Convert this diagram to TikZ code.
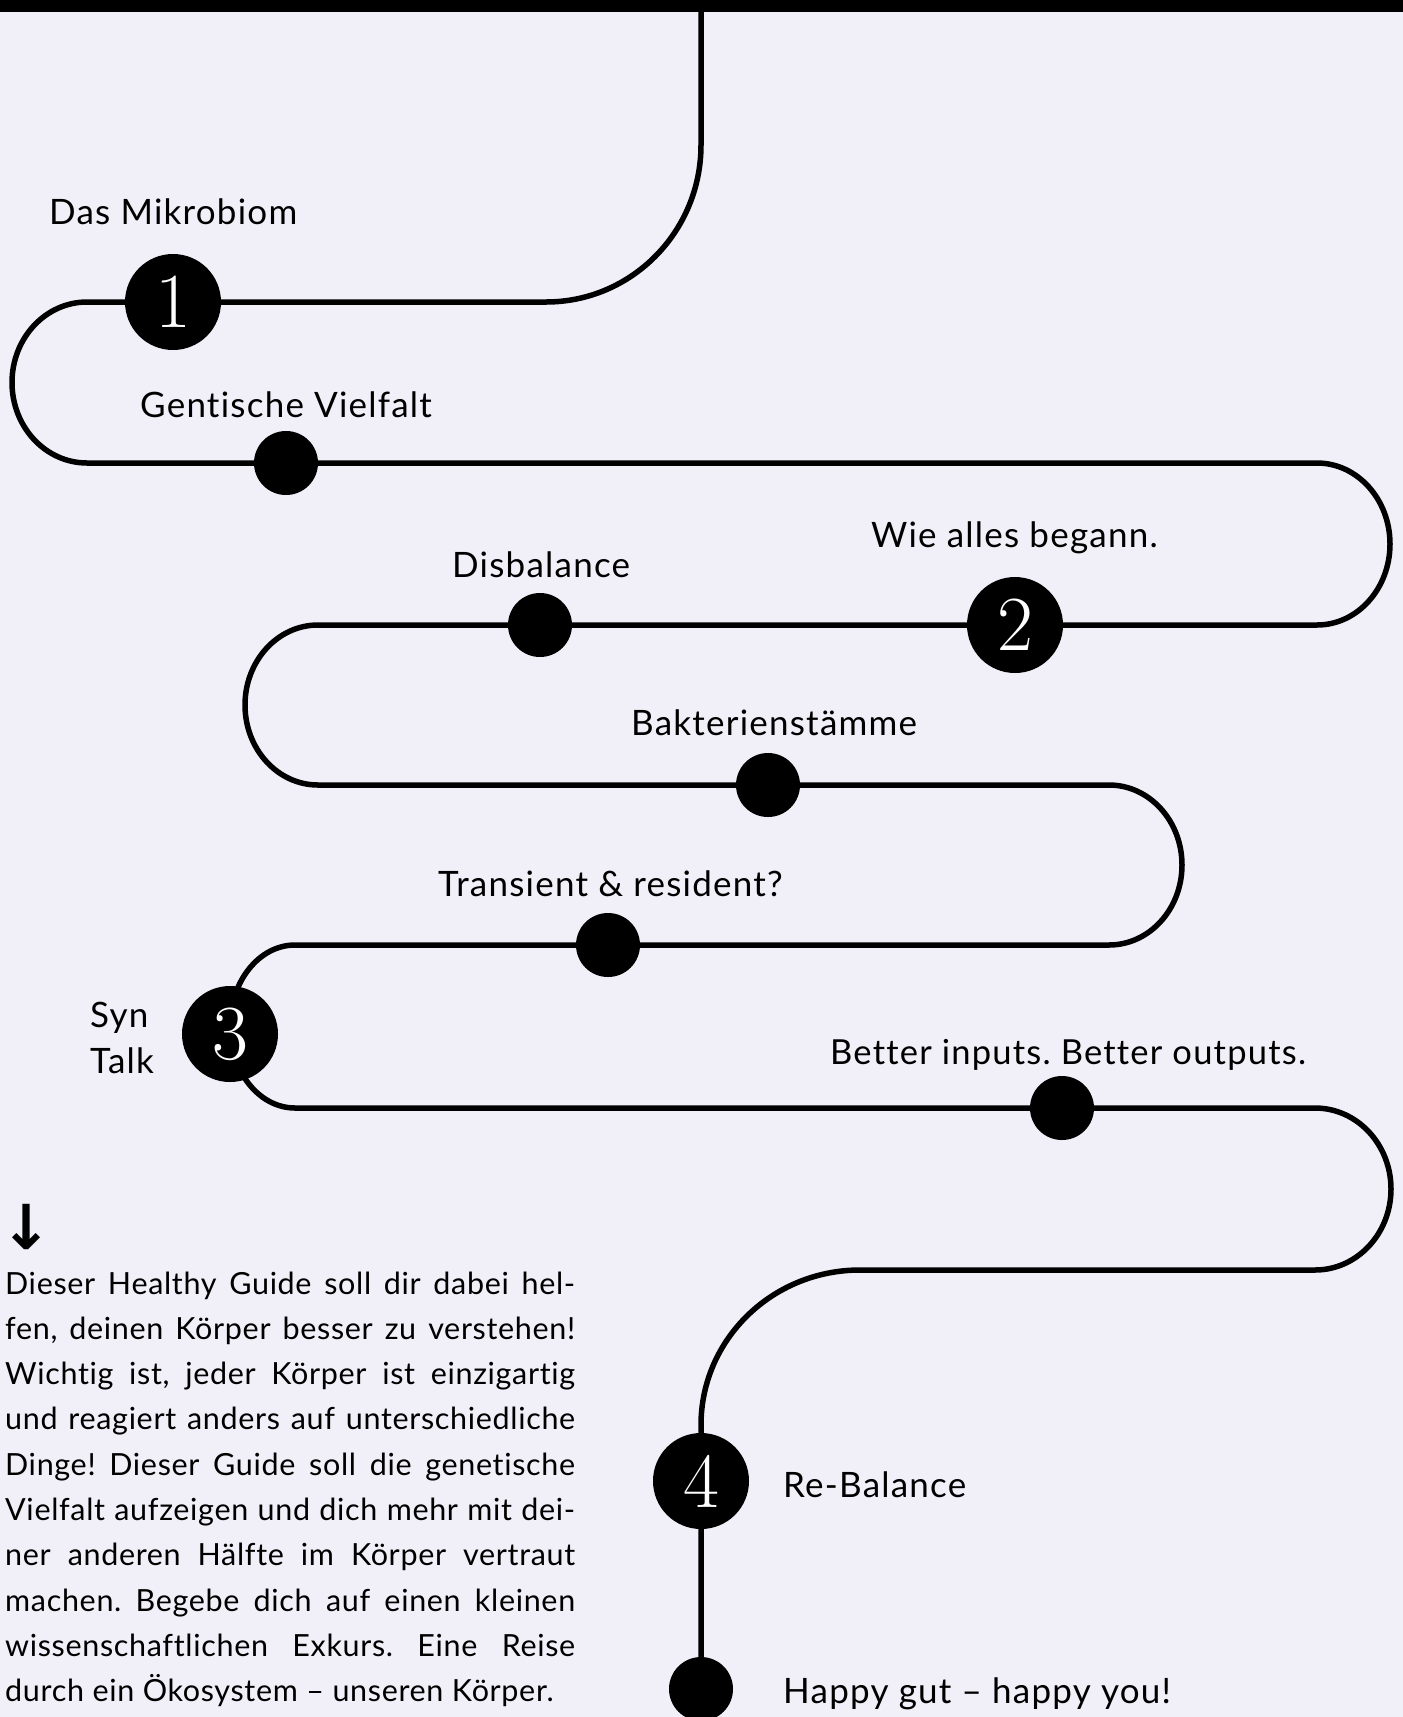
\documentclass[tikz,border=0pt]{standalone}
\usepackage{fontspec}
\newfontfamily\lab{Lato}[LetterSpace=3.5, Ligatures=NoCommon]
\newfontfamily\paraf{Lato}[LetterSpace=2.2, Ligatures=NoCommon]
\newfontfamily\arrfont{DejaVu Sans}
\definecolor{bg}{RGB}{241,239,248}
\begin{document}
\frenchspacing
\begin{tikzpicture}[x=1pt,y=-1pt,
  route/.style={line width=5.5pt, line join=round},
  bignode/.style={circle, fill=black, minimum size=96pt, inner sep=0pt, text=white, font=\fontsize{78}{78}\selectfont},
  dotnode/.style={circle, fill=black, minimum size=64pt, inner sep=0pt},
  lbl/.style={anchor=base west, inner sep=0pt, font=\lab\fontsize{35}{40}\selectfont},
  para/.style={anchor=base west, inner sep=0pt, font=\paraf\fontsize{30.5}{45}\selectfont}]
\useasboundingbox (0,0) rectangle (1403,1717);
\fill[bg] (0,0) rectangle (1403,1717);
\fill[black] (0,0) rectangle (1403,12);

% route
\coordinate (start) at (701,6);
\coordinate (finish) at (701,1730);
\draw[route] (start) -- (701,145)
  .. controls (701,231.7) and (631.6,302) .. (546,302) -- (87,302)
  .. controls (45.6,302) and (12,338) .. (12,382.5)
  .. controls (12,427) and (45.6,463) .. (87,463) -- (1317,463)
  .. controls (1357.3,463) and (1390,499.3) .. (1390,544)
  .. controls (1390,588.7) and (1357.3,625) .. (1317,625) -- (318,625)
  .. controls (277.7,625) and (245,660.8) .. (245,705)
  .. controls (245,749.2) and (277.7,785) .. (318,785) -- (1109,785)
  .. controls (1149.3,785) and (1182,820.8) .. (1182,865)
  .. controls (1182,909.2) and (1149.3,945) .. (1109,945) -- (295,945)
  .. controls (259.1,945) and (230,981.5) .. (230,1026.5)
  .. controls (230,1071.5) and (259.1,1108) .. (295,1108) -- (1315,1108)
  .. controls (1357,1108) and (1391,1144.3) .. (1391,1189)
  .. controls (1391,1233.7) and (1357,1270) .. (1315,1270) -- (860,1270)
  .. controls (772.2,1270) and (701,1339.4) .. (701,1425) -- (finish);

% big numbered nodes
\node[bignode] (n1) at (173,302) {1};
\node[bignode] (n2) at (1015,625) {2};
\node[bignode] (n3) at (230,1034) {3};
\node[bignode] (n4) at (701,1481) {4};

% small dots
\node[dotnode] (d1) at (286,463) {};
\node[dotnode] (d2) at (540,625) {};
\node[dotnode] (d3) at (768,785) {};
\node[dotnode] (d4) at (608,945) {};
\node[dotnode] (d5) at (1062,1108) {};
\node[dotnode] (d6) at (701,1689) {};

% labels
\node[lbl] (l1) at (49,224) {Das Mikrobiom};
\node[lbl] (l2) at (140,417) {Gentische Vielfalt};
\node[lbl] (l3) at (452,577) {Disbalance};
\node[lbl] (l4) at (871,547) {Wie alles begann.};
\node[lbl] (l5) at (631,735) {Bakterienstämme};
\node[lbl] (l6) at (438,896) {Transient \& resident?};
\node[lbl] (l7a) at (90,1027) {Syn};
\node[lbl] (l7b) at (90,1073) {Talk};
\node[lbl, font=\lab\fontsize{34.5}{40}\selectfont] (l8) at (830,1064) {Better inputs. Better outputs.};
\node[lbl] (l9) at (783,1497) {Re-Balance};
\node[lbl] (l10) at (783,1703) {Happy gut – happy you!};

% arrow
\node[anchor=north west, inner sep=0pt, font=\arrfont\bfseries\fontsize{62}{62}\selectfont] (arrow) at (0,1204) {↓};

% paragraph
\node[para] (p1) at (5,1294.0) {\makebox[570pt][s]{Dieser Healthy Guide soll dir dabei hel-}};
\node[para] (p2) at (5,1339.3) {\makebox[570pt][s]{fen, deinen Körper besser zu verstehen!}};
\node[para] (p3) at (5,1384.6) {\makebox[570pt][s]{Wichtig ist, jeder Körper ist einzigartig}};
\node[para] (p4) at (5,1429.9) {\makebox[570pt][s]{und reagiert anders auf unterschiedliche}};
\node[para] (p5) at (5,1475.2) {\makebox[570pt][s]{Dinge! Dieser Guide soll die genetische}};
\node[para] (p6) at (5,1520.5) {\makebox[570pt][s]{Vielfalt aufzeigen und dich mehr mit dei-}};
\node[para] (p7) at (5,1565.8) {\makebox[570pt][s]{ner anderen Hälfte im Körper vertraut}};
\node[para] (p8) at (5,1611.1) {\makebox[570pt][s]{machen. Begebe dich auf einen kleinen}};
\node[para] (p9) at (5,1656.4) {\makebox[570pt][s]{wissenschaftlichen Exkurs. Eine Reise}};
\node[para] (p10) at (5,1701.7) {durch ein Ökosystem – unseren Körper.};
\end{tikzpicture}
\end{document}
